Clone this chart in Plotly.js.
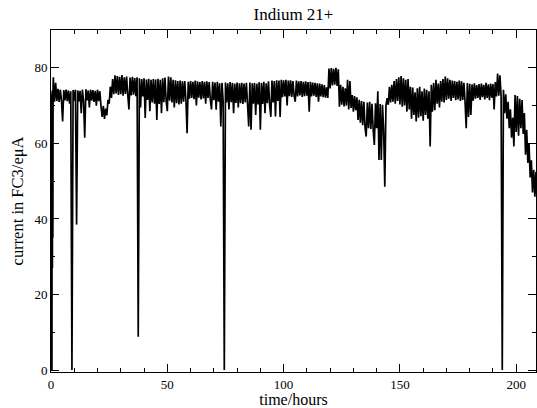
<!DOCTYPE html>
<html>
<head>
<meta charset="utf-8">
<script src="https://cdn.plot.ly/plotly-3.0.1.min.js"></script>
<style>html,body{margin:0;padding:0;background:#fff;}#chart{width:537px;height:408px;}</style>
</head>
<body>
<div id="chart"></div>
<script>
// time (hours) of each reading
const startHours = [0, 0.1, 0.2, 0.3, 0.4, 0.5, 0.6, 0.7, 0.8, 0.9];
const startCurrent = [0, 71, 26, 73, 0, 74, 27, 72, 35, 75];

const hours = [
  1, 1.5, 2, 2.5, 3, 3.5, 4, 4.5,
  5, 5.5, 6, 6.5, 7, 7.5, 8, 8.5, 9, 9.5,
  10, 10.5, 11, 11.5, 12, 12.5, 13, 13.5, 14, 14.5,
  15, 15.5, 16, 16.5, 17, 17.5, 18, 18.5, 19, 19.5,
  20, 20.5, 21, 21.5, 22, 22.5, 23, 23.5, 24, 24.5,
  25, 25.5, 26, 26.5, 27, 27.5, 28, 28.5, 29, 29.5,
  30, 30.5, 31, 31.5, 32, 32.5, 33, 33.5, 34, 34.5,
  35, 35.5, 36, 36.5, 37, 37.5, 38, 38.5, 39, 39.5,
  40, 40.5, 41, 41.5, 42, 42.5, 43, 43.5, 44, 44.5,
  45, 45.5, 46, 46.5, 47, 47.5, 48, 48.5, 49, 49.5,
  50, 50.5, 51, 51.5, 52, 52.5, 53, 53.5, 54, 54.5,
  55, 55.5, 56, 56.5, 57, 57.5, 58, 58.5, 59, 59.5,
  60, 60.5, 61, 61.5, 62, 62.5, 63, 63.5, 64, 64.5,
  65, 65.5, 66, 66.5, 67, 67.5, 68, 68.5, 69, 69.5,
  70, 70.5, 71, 71.5, 72, 72.5, 73, 73.5, 74, 74.5,
  75, 75.5, 76, 76.5, 77, 77.5, 78, 78.5, 79, 79.5,
  80, 80.5, 81, 81.5, 82, 82.5, 83, 83.5, 84, 84.5,
  85, 85.5, 86, 86.5, 87, 87.5, 88, 88.5, 89, 89.5,
  90, 90.5, 91, 91.5, 92, 92.5, 93, 93.5, 94, 94.5,
  95, 95.5, 96, 96.5, 97, 97.5, 98, 98.5, 99, 99.5,
  100, 100.5, 101, 101.5, 102, 102.5, 103, 103.5, 104, 104.5,
  105, 105.5, 106, 106.5, 107, 107.5, 108, 108.5, 109, 109.5,
  110, 110.5, 111, 111.5, 112, 112.5, 113, 113.5, 114, 114.5,
  115, 115.5, 116, 116.5, 117, 117.5, 118, 118.5, 119, 119.5,
  120, 120.5, 121, 121.5, 122, 122.5, 123, 123.5, 124, 124.5,
  125, 125.5, 126, 126.5, 127, 127.5, 128, 128.5, 129, 129.5,
  130, 130.5, 131, 131.5, 132, 132.5, 133, 133.5, 134, 134.5,
  135, 135.5, 136, 136.5, 137, 137.5, 138, 138.5, 139, 139.5,
  140, 140.5, 141, 141.5, 142, 142.5, 143, 143.5, 144, 144.5,
  145, 145.5, 146, 146.5, 147, 147.5, 148, 148.5, 149, 149.5,
  150, 150.5, 151, 151.5, 152, 152.5, 153, 153.5, 154, 154.5,
  155, 155.5, 156, 156.5, 157, 157.5, 158, 158.5, 159, 159.5,
  160, 160.5, 161, 161.5, 162, 162.5, 163, 163.5, 164, 164.5,
  165, 165.5, 166, 166.5, 167, 167.5, 168, 168.5, 169, 169.5,
  170, 170.5, 171, 171.5, 172, 172.5, 173, 173.5, 174, 174.5,
  175, 175.5, 176, 176.5, 177, 177.5, 178, 178.5, 179, 179.5,
  180, 180.5, 181, 181.5, 182, 182.5, 183, 183.5, 184, 184.5,
  185, 185.5, 186, 186.5, 187, 187.5, 188, 188.5, 189, 189.5,
  190, 190.5, 191, 191.5, 192, 192.5, 193, 193.5, 194, 194.5,
  195, 195.5, 196, 196.5, 197, 197.5, 198, 198.5, 199, 199.5,
  200, 200.5, 201, 201.5, 202, 202.5, 203, 203.5, 204, 204.5,
  205, 205.5, 206, 206.5, 207, 207.5, 208, 208.5, 209
];

// beam current in FC3 (eμA)
const current = [
  77.5, 71, 76, 71.2, 74.4, 71, 74.2, 71.3,
  65.8, 74.1, 71.4, 74.2, 71.2, 74, 70.5, 73.8, 0, 74.1,
  71.3, 74.2, 38.5, 74, 71.1, 73.9, 68, 74.2, 71.2, 61.5,
  74.3, 71.4, 74, 69.5, 74.2, 71.3, 74.1, 71, 73.9, 70,
  74.2, 71.2, 73.8, 69.8, 67, 69.9, 66.5, 69.2, 67.4, 71.5,
  70.5, 75, 72, 77, 73, 78, 73.2, 77.8, 72.8, 77.6,
  73, 78.1, 72.6, 77.5, 73.1, 77.7, 72.9, 69, 77.4, 72.7,
  77.6, 72.9, 77.3, 72.5, 77.5, 8.8, 77.2, 69.5, 77, 72.4,
  77.2, 66.7, 76.9, 71.5, 77.1, 68.5, 76.8, 70.8, 77, 70.5,
  76.9, 66.2, 77.1, 70.4, 76.8, 68, 77.2, 70.9, 77.4, 71.2,
  68.5, 77.7, 71.3, 77.5, 70.8, 76.8, 69.5, 76.7, 70.6, 76.5,
  70.3, 76.6, 70.5, 76.4, 71, 76.5, 71.4, 62.7, 76.3, 71.8,
  76.5, 72, 76.3, 71.7, 76.6, 70, 76.4, 72.1, 76.2, 71.6,
  76.5, 71.9, 76.3, 70.5, 76.4, 72, 76.2, 71.5, 69, 76.3,
  71.4, 76.1, 68.9, 76.3, 71, 75.9, 64.5, 76, 71.2, 0,
  76.1, 70.8, 75.9, 69, 76.2, 70.9, 76, 68, 75.8, 70.7,
  76.1, 69.5, 75.9, 70.6, 76, 70.4, 75.8, 70.8, 76, 70.2,
  64.5, 76.1, 63.6, 75.9, 70.5, 76, 67.5, 75.8, 70.3, 76.2,
  63.6, 76, 70.4, 76.3, 68, 75.9, 70.6, 76.4, 70.2, 67,
  76.6, 70.8, 76.5, 67.1, 76.7, 71.2, 76.6, 67, 76.8, 72.2,
  76.7, 72.4, 76.8, 70, 76.6, 72.5, 76.7, 72.3, 76.5, 72.6,
  71, 76.6, 72.4, 76.4, 72.7, 76.5, 72.3, 76.3, 72.5, 76.4,
  72.6, 76.2, 68.4, 76.3, 72.4, 76.1, 72.6, 76, 72.3, 75.9,
  71, 75.8, 72.4, 75.6, 72.2, 75.4, 72.1, 74.8, 72, 79.8,
  74.5, 79.9, 75.3, 79.7, 75.5, 80, 75.2, 79.6, 69.7, 75.5,
  70.2, 75, 69.8, 74.6, 70, 76.8, 69, 76.5, 69.4, 72.8,
  68.4, 72.5, 68.8, 72.2, 66.2, 71.5, 65.5, 71.2, 64.8, 71,
  64.2, 61.8, 70.8, 64, 71, 63.8, 70.5, 63.6, 59.6, 70.6,
  64, 73.8, 55.6, 70.4, 55.6, 70.2, 63.6, 48.5, 70, 72,
  70.2, 75, 70.8, 75.5, 71, 76.5, 70.5, 77, 71.2, 77.5,
  70.3, 77.8, 69.7, 77.2, 70, 76.8, 68.4, 77, 69, 75,
  66.5, 74.8, 67.5, 73.5, 65.8, 74.6, 66.8, 75, 67.2, 73.8,
  66, 74.5, 67.5, 74.2, 66.5, 73.8, 59.2, 75.5, 68.4, 76,
  68.8, 76.8, 70.5, 75.8, 69.5, 76.5, 71, 77, 70.8, 77.7,
  71.5, 77.2, 71.8, 76.8, 71.2, 76.6, 72, 76.5, 71.4, 76.3,
  71.6, 76.6, 71.2, 76.4, 71.5, 76, 71, 64, 76, 67,
  75.8, 67.5, 75.6, 71.3, 75.9, 71.8, 75.4, 72, 75.7, 71.5,
  75.8, 72.2, 75.5, 71.6, 76, 72, 75.6, 71.4, 75.8, 72.1,
  75.7, 69, 76.2, 72.4, 78.5, 72.6, 78, 72.4, 0, 74.2,
  68, 73, 66.5, 71, 64, 69, 61.5, 66.8, 59.2, 72.8,
  63, 72.5, 62, 71.8, 64, 71.5, 62.5, 68, 57, 63.6,
  54.8, 60, 51, 55.5, 47, 53, 45.9, 52.5, 44.2
];

const xTickVals = [0, 50, 100, 150, 200];
const yTickVals = [0, 20, 40, 60, 80];

const FONT = 'Liberation Serif, Times New Roman, serif';

const trace = {
  type: 'scatter',
  mode: 'lines',
  x: startHours.concat(hours),
  y: startCurrent.concat(current),
  line: {color: '#000000', width: 1.7, simplify: false},
  hoverinfo: 'skip',
  showlegend: false
};

const axisCommon = {
  showgrid: false,
  zeroline: false,
  showline: true,
  linecolor: '#000000',
  linewidth: 1,
  mirror: 'ticks',
  ticks: 'inside',
  ticklen: 8,
  tickwidth: 1,
  tickcolor: '#000000',
  tickfont: {family: FONT, size: 13, color: '#000000'},
  fixedrange: true
};

const layout = {
  width: 537,
  height: 408,
  paper_bgcolor: '#ffffff',
  plot_bgcolor: '#ffffff',
  font: {family: FONT, color: '#000000'},
  margin: {l: 51, r: 1, t: 30, b: 36},
  title: {
    text: 'Indium 21+',
    font: {family: FONT, size: 17, color: '#000000'},
    x: 0.5, xref: 'paper', xanchor: 'center',
    y: 0.965, yref: 'container', yanchor: 'middle'
  },
  xaxis: Object.assign({}, axisCommon, {
    range: [0, 208.5],
    tickmode: 'array',
    tickvals: xTickVals,
    ticktext: xTickVals.map(String),
    minor: {dtick: 10, tick0: 0, ticks: 'inside', ticklen: 4, tickwidth: 1, tickcolor: '#000000', showgrid: false},
    title: {text: 'time/hours', font: {family: FONT, size: 16, color: '#000000'}, standoff: 0}
  }),
  yaxis: Object.assign({}, axisCommon, {
    range: [-0.5, 90],
    tickmode: 'array',
    tickvals: yTickVals,
    ticktext: yTickVals.map(String),
    minor: {dtick: 10, tick0: 0, ticks: 'inside', ticklen: 4, tickwidth: 1, tickcolor: '#000000', showgrid: false},
    title: {text: 'current in FC3/eμA', font: {family: FONT, size: 16.5, color: '#000000'}, standoff: 6}
  })
};

Plotly.newPlot('chart', [trace], layout, {displayModeBar: false, staticPlot: true});
</script>
</body>
</html>
